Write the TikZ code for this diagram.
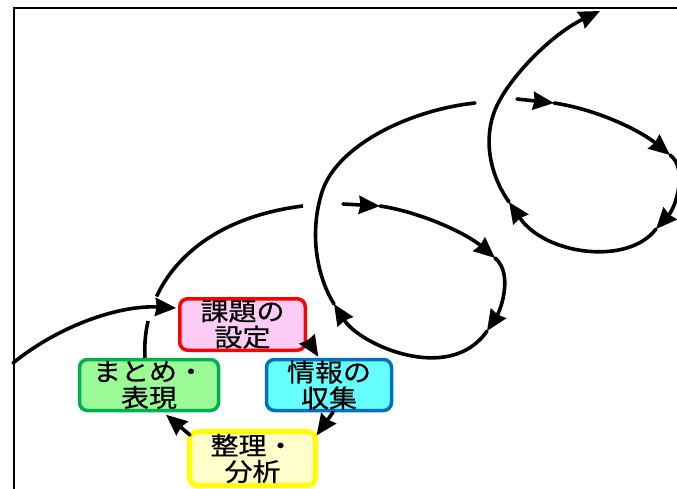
\documentclass[tikz,border=0pt]{standalone}
\usepackage{fontspec}
\newfontfamily\jp[FakeStretch=1.12,FakeBold=0.6]{Noto Sans CJK JP}
\usetikzlibrary{arrows.meta,calc}
\definecolor{pinkfill}{RGB}{252,204,246}
\definecolor{redline}{RGB}{255,0,0}
\definecolor{greenfill}{RGB}{153,250,150}
\definecolor{greenline}{RGB}{0,176,80}
\definecolor{cyanfill}{RGB}{102,255,255}
\definecolor{blueline}{RGB}{0,112,192}
\definecolor{yellowfill}{RGB}{255,255,204}
\definecolor{yellowline}{RGB}{255,255,0}
\begin{document}
\begin{tikzpicture}[x=1pt,y=-1pt,
  box/.style={draw, rounded corners=8pt, align=center, inner sep=0pt,
    font=\jp\fontsize{25}{26}\selectfont, text=black},
  flow/.style={line width=3.6pt, draw=black, line cap=round},
  tip/.style={-{Stealth[length=21pt,width=18pt,inset=1.5pt]}},
  frame/.style={line width=1.6pt, draw=black}]
\useasboundingbox (0,0) rectangle (677,489);
\clip (0,0) rectangle (677,489);

% boxes
\node[box, fill=pinkfill, draw=redline, line width=3.5pt,
  minimum width=125.5pt, minimum height=51.5pt] (kadai) at (242.5,324.5) {課題の\\設定};
\node[box, fill=greenfill, draw=greenline, line width=3.5pt,
  minimum width=139pt, minimum height=51pt] (matome) at (149,385) {まとめ・\\表現};
\node[box, fill=cyanfill, draw=blueline, line width=3.5pt,
  minimum width=125pt, minimum height=51pt] (joho) at (329,385) {情報の\\収集};
\node[box, fill=yellowfill, draw=yellowline, line width=5pt,
  minimum width=126pt, minimum height=54pt] (seiri) at (252.5,458.5) {整理・\\分析};

% cycle connectors
\draw[flow,tip] ([shift={(2,-10)}]kadai.south east) -- ([shift={(53.5,-1)}]joho.north west);
\draw[flow,tip] ([shift={(4,0)}]joho.south) -- ([shift={(-1.5,6.5)}]seiri.north east);
\draw[flow,tip] ([shift={(3,6)}]seiri.north west) -- ([shift={(17,2.5)}]matome.south);

% coordinates of the spiral
\coordinate (a0) at (13,363);
\coordinate (b1) at (303,206);
\coordinate (c0) at (343,204);
\coordinate (c1) at (380,206);
\coordinate (c2) at (495,258);
\coordinate (c3) at (487,331);
\coordinate (c4) at (334,304);
\coordinate (c5) at (322,192);
\coordinate (c6) at (475,103);
\coordinate (d0) at (517,99);
\coordinate (d1) at (554,103);
\coordinate (d2) at (670,155);
\coordinate (d3) at (656,229);
\coordinate (d4) at (509,202);
\coordinate (d5) at (495,110);
\coordinate (d6) at (600,11);

% incoming curve into the first step
\draw[flow,tip] (a0) .. controls (60,325) and (120,305) .. ([shift={(-1.75,-16.5)}]kadai.west);

% rising curve from まとめ・表現 (gap where it passes under the incoming curve)
\draw[flow, line cap=butt, dash pattern=on 37pt off 26pt on 600pt]
  ([shift={(-4,0)}]matome.north) .. controls (141,290) and (190,220) .. (b1);

% second loop
\draw[flow,tip] (c0) -- (c1);
\draw[flow,tip] (c1) .. controls (420,212) and (466,233) .. (c2);
\draw[flow,tip] (c2) .. controls (514,274) and (500,311) .. (c3);
\draw[flow,tip] (c3) .. controls (450,385) and (360,345) .. (c4);
\draw[flow] (c4) .. controls (315,273) and (310,230) .. (c5)
  .. controls (337,145) and (410,110) .. (c6);

% third loop
\draw[flow,tip] (d0) -- (d1);
\draw[flow,tip] (d1) .. controls (600,110) and (642,132) .. (d2);
\draw[flow,tip] (d2) .. controls (688,168) and (676,207) .. (d3);
\draw[flow,tip] (d3) .. controls (628,266) and (545,255) .. (d4);
\draw[flow,tip] (d4) .. controls (490,175) and (483,140) .. (d5)
  .. controls (507,80) and (550,35) .. (d6);

% frame
\draw[frame] (14,489) -- (14,8) -- (677,8);
\end{tikzpicture}
\end{document}
